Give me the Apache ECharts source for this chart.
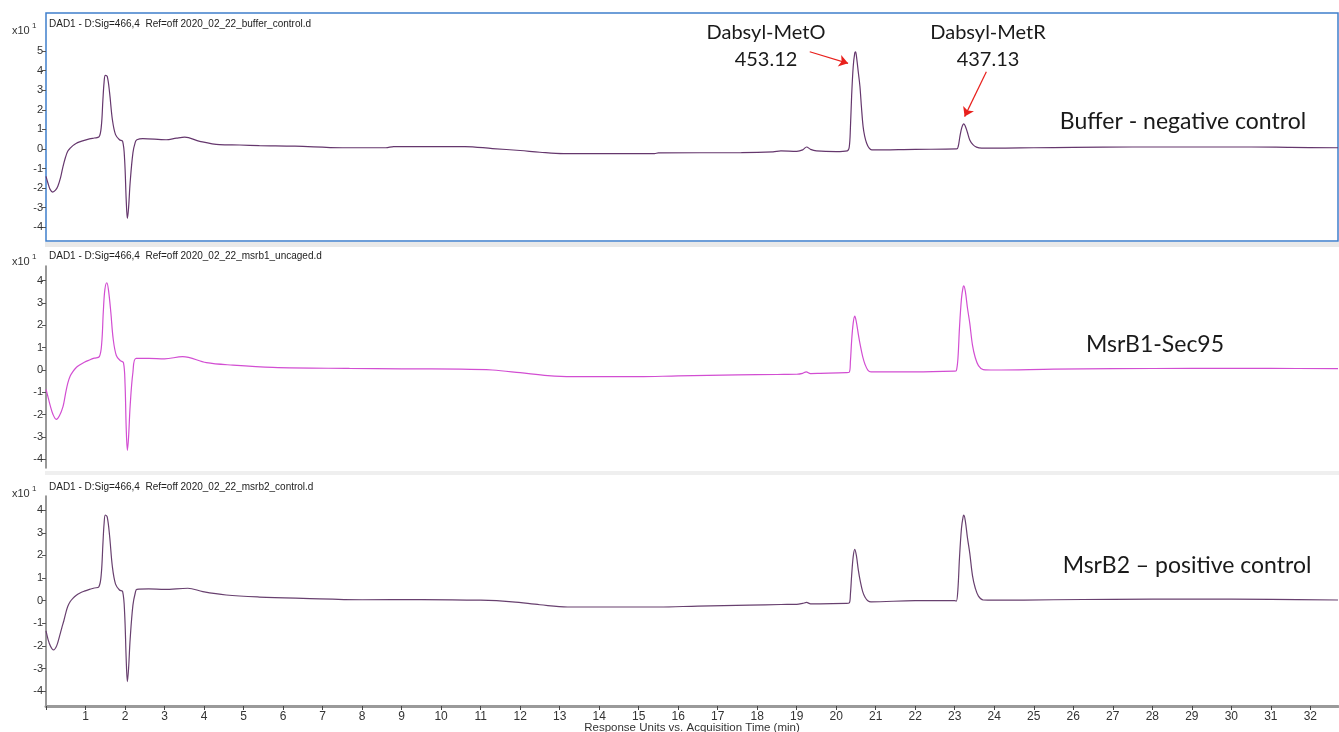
<!DOCTYPE html>
<html>
<head>
<meta charset="utf-8">
<title>DAD1 chromatograms</title>
<style>
  html, body { margin: 0; padding: 0; background: #ffffff; }
  #chart { width: 1339px; height: 732px; }
</style>
<script src="https://cdn.jsdelivr.net/npm/echarts@6/dist/echarts.min.js"></script>
</head>
<body>
<div id="chart"></div>
<script>
// Signal traces, [acquisition time (min), response (x10^1)]
const bufferTrace = [
  [0,-1.4],[0.05,-1.75],[0.1,-2.05],[0.17,-2.2],[0.24,-2.1],[0.3,-1.9],[0.37,-1.45],[0.43,-0.9],
  [0.49,-0.45],[0.55,-0.12],[0.62,0.05],[0.68,0.17],[0.76,0.28],[0.85,0.36],[0.97,0.44],[1.1,0.51],
  [1.22,0.56],[1.34,0.61],[1.4,1.15],[1.44,2.5],[1.47,3.4],[1.5,3.76],[1.55,3.7],[1.61,2.86],
  [1.68,1.5],[1.76,0.73],[1.86,0.47],[1.94,0.39],[1.99,-0.55],[2.03,-2.6],[2.06,-3.55],[2.09,-3.0],
  [2.13,-1.7],[2.2,-0.2],[2.26,0.35],[2.3,0.47],[2.45,0.53],[3.04,0.47],[3.3,0.55],[3.51,0.6],
  [3.89,0.39],[4.39,0.22],[4.9,0.2],[5.4,0.17],[6.3,0.14],[7.5,0.06],[8.6,0.06],[8.8,0.12],
  [10.6,0.12],[11.3,0.02],[12.0,-0.08],[12.5,-0.17],[13.1,-0.24],[15.4,-0.24],[15.5,-0.2],[17.6,-0.19],
  [18.4,-0.15],[18.6,-0.1],[19.0,-0.12],[19.15,-0.05],[19.25,0.1],[19.35,-0.02],[19.5,-0.1],[20.0,-0.14],
  [20.28,-0.1],[20.33,0.1],[20.36,1.1],[20.39,2.7],[20.43,4.2],[20.47,4.9],[20.49,4.96],[20.52,4.6],
  [20.56,3.9],[20.6,3.2],[20.64,2.1],[20.68,1.15],[20.72,0.65],[20.77,0.29],[20.83,0.05],[20.9,-0.05],
  [22.0,-0.02],[23.05,0.0],[23.09,0.15],[23.13,0.63],[23.18,1.1],[23.23,1.28],[23.27,1.15],[23.32,0.85],
  [23.38,0.46],[23.46,0.22],[23.55,0.09],[23.68,0.04],[24.0,0.04],[25.0,0.06],[26.0,0.08],[27.5,0.1],
  [29.0,0.1],[30.5,0.1],[31.5,0.08],[32.7,0.06]
];

const msrb1Trace = [
  [0,-0.87],[0.05,-1.2],[0.1,-1.55],[0.18,-2.0],[0.26,-2.21],[0.34,-2.05],[0.43,-1.64],[0.49,-1.1],
  [0.55,-0.6],[0.61,-0.28],[0.68,-0.07],[0.76,0.1],[0.85,0.22],[0.97,0.35],[1.1,0.45],[1.22,0.53],
  [1.35,0.6],[1.41,1.2],[1.45,2.6],[1.49,3.6],[1.54,3.91],[1.58,3.6],[1.64,2.6],[1.7,1.4],
  [1.78,0.65],[1.88,0.42],[1.96,0.33],[2.0,-0.6],[2.03,-2.6],[2.06,-3.6],[2.09,-3.0],[2.13,-1.6],
  [2.2,-0.1],[2.28,0.52],[2.6,0.52],[3.0,0.5],[3.46,0.6],[4.06,0.33],[4.73,0.22],[5.74,0.12],
  [7.68,0.07],[9.0,0.05],[10.5,0.04],[11.3,0.0],[12.0,-0.12],[12.7,-0.25],[13.3,-0.3],[15.0,-0.3],
  [16.0,-0.26],[17.5,-0.22],[18.5,-0.2],[19.0,-0.19],[19.15,-0.15],[19.24,-0.08],[19.35,-0.16],[19.6,-0.15],
  [20.25,-0.12],[20.33,-0.1],[20.36,0.4],[20.39,1.3],[20.43,2.1],[20.47,2.41],[20.51,2.15],[20.56,1.6],
  [20.61,1.1],[20.67,0.6],[20.73,0.25],[20.8,0.0],[20.88,-0.08],[22.0,-0.08],[23.0,-0.05],[23.04,-0.03],
  [23.08,0.5],[23.12,1.9],[23.17,3.2],[23.21,3.7],[23.23,3.77],[23.27,3.5],[23.32,2.8],[23.38,2.1],
  [23.45,1.1],[23.52,0.55],[23.6,0.2],[23.72,0.02],[24.0,0.0],[25.5,0.04],[27.0,0.06],[29.0,0.07],
  [31.0,0.07],[32.7,0.06]
];

const msrb2Trace = [
  [0,-1.34],[0.05,-1.7],[0.11,-2.0],[0.19,-2.18],[0.27,-2.0],[0.34,-1.59],[0.4,-1.2],[0.45,-0.9],
  [0.5,-0.55],[0.55,-0.26],[0.61,-0.05],[0.68,0.1],[0.76,0.23],[0.85,0.33],[0.97,0.42],[1.1,0.5],
  [1.22,0.56],[1.34,0.62],[1.4,1.2],[1.44,2.5],[1.47,3.4],[1.5,3.79],[1.55,3.7],[1.61,2.86],
  [1.68,1.5],[1.76,0.73],[1.86,0.47],[1.94,0.4],[1.99,-0.55],[2.03,-2.6],[2.06,-3.58],[2.09,-3.0],
  [2.13,-1.7],[2.2,-0.2],[2.26,0.35],[2.3,0.5],[2.6,0.52],[3.0,0.5],[3.59,0.55],[3.97,0.4],
  [4.56,0.25],[5.4,0.16],[6.5,0.1],[8.0,0.04],[9.5,0.05],[11.0,0.02],[11.8,-0.05],[12.5,-0.18],
  [13.2,-0.28],[15.5,-0.28],[16.5,-0.24],[17.8,-0.2],[18.6,-0.17],[19.0,-0.16],[19.15,-0.12],[19.25,-0.08],
  [19.35,-0.14],[19.6,-0.14],[20.25,-0.12],[20.33,-0.1],[20.36,0.3],[20.39,1.1],[20.43,1.95],[20.47,2.27],
  [20.51,2.0],[20.56,1.35],[20.61,0.85],[20.67,0.4],[20.73,0.15],[20.8,0.0],[20.88,-0.05],[22.0,0.0],
  [23.0,0.0],[23.04,-0.02],[23.08,0.5],[23.12,1.9],[23.17,3.2],[23.21,3.7],[23.23,3.78],[23.27,3.5],
  [23.32,2.8],[23.38,2.1],[23.45,1.1],[23.52,0.55],[23.6,0.2],[23.72,0.03],[24.0,0.02],[25.5,0.04],
  [27.0,0.06],[29.0,0.07],[31.0,0.06],[32.7,0.03]
];

// Axis ticks and labels
const timeTicks = [0,1,2,3,4,5,6,7,8,9,10,11,12,13,14,15,16,17,18,19,20,21,22,23,24,25,26,27,28,29,30,31,32];
const timeLabels = [1,2,3,4,5,6,7,8,9,10,11,12,13,14,15,16,17,18,19,20,21,22,23,24,25,26,27,28,29,30,31,32];
const responseTicksTop = [-4,-3,-2,-1,0,1,2,3,4,5];
const responseTicks = [-4,-3,-2,-1,0,1,2,3,4];

// Panel texts
const panelHeaders = [
  'DAD1 - D:Sig=466,4  Ref=off 2020_02_22_buffer_control.d',
  'DAD1 - D:Sig=466,4  Ref=off 2020_02_22_msrb1_uncaged.d',
  'DAD1 - D:Sig=466,4  Ref=off 2020_02_22_msrb2_control.d'
];
const sampleNames = ['Buffer - negative control', 'MsrB1-Sec95', 'MsrB2 \u2013 positive control'];
const peakNames = ['Dabsyl-MetO', 'Dabsyl-MetR'];
const peakMasses = ['453.12', '437.13'];

// Arrows pointing at the two product peaks (time, response)
const peakArrows = [
  [[19.33, 4.96], [20.30, 4.37]],
  [[23.80, 3.94], [23.25, 1.65]]
];

const traceColors = ['#65376d', '#d24ed2', '#68406f'];
const uiFont = '"Liberation Sans", Arial, sans-serif';
const narrowFont = '"Liberation Sans Narrow", "Liberation Sans", Arial, sans-serif';
const noteFont = 'Lato, "Open Sans", sans-serif';

const panels = [
  { top: 13, height: 228, min: -4.7, max: 6.94, ticks: responseTicksTop, data: bufferTrace },
  { top: 266, height: 202, min: -4.39, max: 4.66, ticks: responseTicks, data: msrb1Trace },
  { top: 496, height: 210, min: -4.66, max: 4.63, ticks: responseTicks, data: msrb2Trace }
];

const chart = echarts.init(document.getElementById('chart'), null, { renderer: 'canvas' });

// Each panel keeps its exact plot rectangle; labels may sit outside it.
const grids = panels.map((p, i) => ({
  left: 46, top: p.top, width: 1292, height: p.height,
  outerBoundsMode: 'none', containLabel: false,
  show: i === 0,
  borderColor: '#3f7fcc', borderWidth: 1.5, backgroundColor: 'transparent'
}));

const xAxes = panels.map((p, i) => ({
  type: 'value', gridIndex: i, min: 0, max: 32.7,
  show: i === 2,
  axisLine: { show: true, onZero: false, lineStyle: { color: '#9a9a9a', width: 3 } },
  axisTick: { show: true, customValues: timeTicks, length: 4, lineStyle: { color: '#444', width: 1 } },
  axisLabel: { customValues: timeLabels, fontFamily: narrowFont, fontSize: 12, color: '#333', margin: 5 },
  splitLine: { show: false },
  name: i === 2 ? 'Response Units vs. Acquisition Time (min)' : '',
  nameLocation: 'middle', nameGap: 16, nameMoveOverlap: false,
  nameTextStyle: { fontFamily: narrowFont, fontSize: 11.5, color: '#333' }
}));

const yAxes = panels.map((p, i) => ({
  type: 'value', gridIndex: i, min: p.min, max: p.max,
  axisLine: { show: i !== 0, lineStyle: { color: '#777', width: 1.5 } },
  axisTick: { show: true, customValues: p.ticks, length: 4, lineStyle: { color: '#555' } },
  axisLabel: { customValues: p.ticks, fontFamily: uiFont, fontSize: 11, color: '#333', margin: 3 },
  splitLine: { show: false }
}));

const series = panels.map((p, i) => {
  const s = {
    type: 'line', xAxisIndex: i, yAxisIndex: i, data: p.data,
    showSymbol: false, symbol: 'none', smooth: 0.35,
    lineStyle: { color: traceColors[i], width: 1.2 },
    silent: true
  };
  if (i === 0) {
    s.markLine = {
      silent: true, symbol: ['none', 'arrow'], symbolSize: 9,
      lineStyle: { color: '#e8201c', width: 1.2, type: 'solid' },
      label: { show: false },
      data: peakArrows.map(a => [{ coord: a[0] }, { coord: a[1] }])
    };
  }
  return s;
});

// Header, exponent and sample annotations
const headerY = [24, 256, 487];
const expY = [29, 260, 492];
const sampleY = [122, 345, 566];
const sampleX = [1183, 1155, 1187];

const graphics = [];
graphics.push({ type: 'rect', shape: { x: 45, y: 242, width: 1294, height: 5 }, style: { fill: '#e9e9e9' }, silent: true });
graphics.push({ type: 'rect', shape: { x: 45, y: 471, width: 1294, height: 4 }, style: { fill: '#efefef' }, silent: true });
panelHeaders.forEach((t, i) => {
  graphics.push({ type: 'text', x: 49, y: headerY[i], style: { text: t, font: '10px ' + uiFont, fill: '#222', verticalAlign: 'middle', textAlign: 'left' }, silent: true });
  graphics.push({ type: 'text', x: 12, y: expY[i], style: { text: '{b|x10}{s| 1}', rich: { b: { font: '11px ' + uiFont, fill: '#333', verticalAlign: 'bottom' }, s: { font: '8px ' + uiFont, fill: '#333', verticalAlign: 'top', padding: [0, 0, 6, 0] } }, verticalAlign: 'middle', textAlign: 'left' }, silent: true });
  graphics.push({ type: 'text', x: sampleX[i], y: sampleY[i], style: { text: sampleNames[i], font: '23px ' + noteFont, fill: '#1a1a1a', textAlign: 'center', verticalAlign: 'middle' }, silent: true });
});
const peakLabelX = [766, 988];
peakNames.forEach((t, i) => {
  graphics.push({ type: 'text', x: peakLabelX[i], y: 33, style: { text: t, font: '20px ' + noteFont, fill: '#1a1a1a', textAlign: 'center', verticalAlign: 'middle' }, silent: true });
  graphics.push({ type: 'text', x: peakLabelX[i], y: 60, style: { text: peakMasses[i], font: '20px ' + noteFont, fill: '#1a1a1a', textAlign: 'center', verticalAlign: 'middle' }, silent: true });
});

chart.setOption({
  animation: false,
  backgroundColor: '#ffffff',
  grid: grids,
  xAxis: xAxes,
  yAxis: yAxes,
  series: series,
  graphic: graphics
});
</script>
</body>
</html>
